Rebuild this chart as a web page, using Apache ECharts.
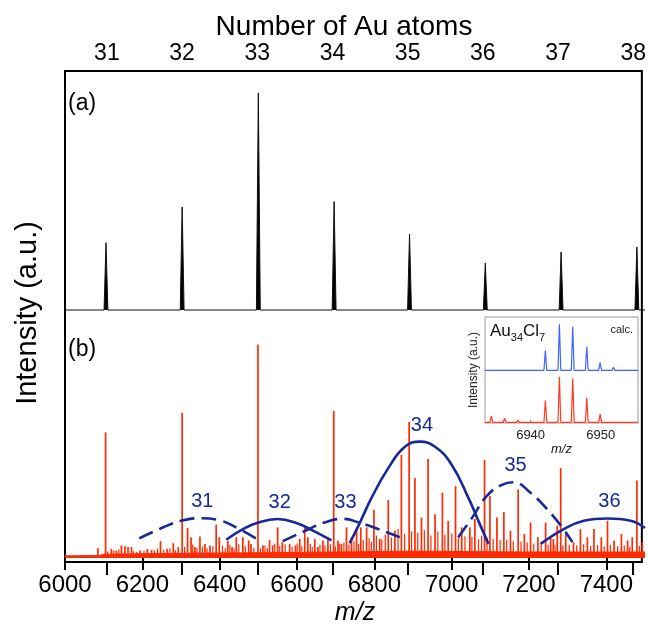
<!DOCTYPE html>
<html>
<head>
<meta charset="utf-8">
<script src="https://cdn.jsdelivr.net/npm/echarts@6/dist/echarts.min.js"></script>
<style>html,body{margin:0;padding:0;background:#fff}#c{width:649px;height:627px}</style>
</head>
<body>
<div id="c"></div>
<script>
// ---------- data ----------
const auAtoms = [31, 32, 33, 34, 35, 36, 37, 38];
const auRange = [30.4425, 38.115];          // Au count at m/z 6000 and 7500
const mzRange = [6000, 7500];
const aPeakMz  = [6106, 6303, 6500, 6696, 6891, 7087, 7283, 7479];
const aPeakInt = [31.6, 47.9, 100, 50.4, 35.6, 22.4, 27.4, 29.7];
const aBase = 0.9;
const bSticks = [
  [6085,4.6],[6105,58.7],[6120,4.3],[6133,3.5],[6146,5.9],[6155,5.5],[6163,5.1],[6172,5.1],[6194,3.5],[6213,4.3],
  [6224,3.8],[6247,7.9],[6264,4.3],[6280,6.9],[6293,5.1],[6303,67.9],[6317,14],[6326,9.7],[6336,5.1],[6349,10],
  [6362,6.6],[6375,5.9],[6391,15.6],[6399,9.7],[6421,7.9],[6432,5.1],[6443,9.7],[6460,9.7],[6475,8.2],[6481,6.6],
  [6499,99.8],[6512,5.9],[6529,8.5],[6537,5.9],[6550,14.3],[6562,7.4],[6581,6.6],[6596,5.9],[6607,8.9],[6620,14.3],
  [6628,9.7],[6646,8.9],[6654,5.1],[6667,8.2],[6680,9.7],[6695,68.8],[6706,8.2],[6715,6.6],[6728,14.3],[6741,9.7],
  [6754,13.5],[6765,14.3],[6780,14.3],[6799,22.5],[6814,8.9],[6836,27.1],[6853,12.8],[6870,48.2],[6890,63.6],[6905,37.4],
  [6922,18.9],[6939,46.3],[6957,20.5],[6976,30.5],[6991,17.4],[7010,33.6],[7026,14.3],[7047,14.3],[7060,18.2],[7085,45.9],
  [7099,29],[7117,18.9],[7135,21.5],[7152,12.8],[7172,32],[7188,11.2],[7204,16.6],[7223,9.7],[7243,16.6],[7256,9.7],
  [7263,8.9],[7273,15.1],[7282,42],[7295,11.2],[7315,7.4],[7333,13.5],[7351,9.7],[7368,13.5],[7387,9.7],[7403,17.4],
  [7420,8.2],[7439,11.2],[7455,8.2],[7467,9.7],[7479,36.2],[7493,7.4]
];
// smaller lines of the dense forest between the labelled ones (estimated)
const bMinor = [
  [6111,3],[6127,3.5],[6140,4],[6178,3.2],[6186,2.8],[6205,3.4],[6232,3.6],[6240,4.4],[6256,3.8],[6272,4.5],[6286,3.6],
  [6310,5.2],[6331,6.2],[6342,4.8],[6356,5.4],[6368,4.6],[6383,5.5],[6408,5.8],[6415,4.6],[6427,6.2],[6438,4.4],[6450,6.4],
  [6467,5.5],[6489,4.8],[6506,4.5],[6518,5.8],[6524,4.6],[6543,6.8],[6556,5.6],[6570,6.4],[6588,5.2],[6601,6.8],[6613,5.5],
  [6635,6.6],[6640,5.2],[6660,6.2],[6673,5.8],[6687,6.4],[6700,5.4],[6710,6.8],[6722,7.2],[6735,6.2],[6748,7.8],[6760,6.5],
  [6772,8.4],[6787,9.2],[6793,7.5],[6806,10.5],[6820,8.6],[6829,11],[6845,9.6],[6862,13.5],[6879,11.2],[6897,12.5],[6913,11.8],
  [6930,13],[6947,10.5],[6965,12.4],[6983,10.8],[7001,11.5],[7018,9.6],[7035,10.2],[7053,9.8],[7070,8.8],[7078,10.4],[7092,9.5],
  [7108,9],[7126,8.4],[7143,8.6],[7160,7.8],[7180,7.6],[7196,7.2],[7213,6.8],[7232,6.4],[7250,6.2],[7268,6],[7288,5.8],
  [7305,6.2],[7324,5.8],[7342,6.4],[7360,5.6],[7378,6],[7395,5.4],[7411,6.2],[7430,5.5],[7447,5.8],[7461,5.2],[7486,5.6]
];
const bBaseline = [[6000,1.0],[6090,1.2],[6100,1.8],[6300,2.2],[6600,2.6],[6900,3.2],[7200,2.8],[7500,2.8]];
const env31 = [[6192,9.2],[6250,14],[6300,17.4],[6350,18.6],[6400,17.6],[6450,13.6],[6498,8.7]];
const env32 = [[6417,8.5],[6460,13.5],[6500,16.6],[6550,18.2],[6600,16.2],[6640,12.9],[6689,8.2]];
const env33 = [[6563,7.9],[6620,12.6],[6671,16.6],[6720,18.3],[6760,16.6],[6810,13.5],[6866,9.7]];
const env34 = [[6736,6.9],[6760,15.5],[6793,28.2],[6836,42],[6879,52],[6918,54.4],[6957,52],[7000,43.6],[7043,28.2],[7070,17],[7095,6.6]];
const env35 = [[7017,9.7],[7050,18],[7091,29],[7130,34.2],[7160,35.4],[7204,30.5],[7247,22.8],[7286,14.3],[7312,7.4]];
const env36 = [[7230,6.6],[7290,13.5],[7342,17.4],[7403,18.5],[7463,17.4],[7500,14]];
const envLabels = ['31', '32', '33', '34', '35', '36'];
const insetRange = [6933.5, 6955.3];
const insetTicks = [6940, 6950];
const calcMz  = [6942.1, 6944.1, 6946.0, 6948.0, 6949.9, 6951.8];
const calcInt = [43, 100, 95, 51, 17, 6.5];
const expMz  = [6934.4, 6936.3, 6938.2, 6942.1, 6944.1, 6946.0, 6948.0, 6949.9, 6951.8, 6953.7];
const expInt = [14, 9, 5, 48, 100, 96, 54, 18, 3, 2];

// ---------- build ----------
const FONT = 'Liberation Sans, Arial, Helvetica, sans-serif';
const RED = '#ff2a00', NAVY = '#17299a';
const plain = v => String(v);
function peaks(mz, it, base, hw, range) {
  const out = [[range[0], base]];
  mz.forEach((c, i) => { out.push([c - hw, base], [c, it[i]], [c + hw, base]); });
  out.push([range[1], base]);
  return out;
}
const aProfile = peaks(aPeakMz, aPeakInt, aBase, 5, mzRange);
const calcProfile = peaks(calcMz, calcInt, 0, 0.2, insetRange);
const expProfile = peaks(expMz, expInt, 0, 0.2, insetRange);

const envs = [env31, env32, env33, env34, env35, env36];
const envSeries = envs.map((d, i) => ({
  type: 'line', name: envLabels[i], xAxisIndex: 2, yAxisIndex: 2, data: d,
  smooth: 0.45, symbol: 'none', z: 5,
  lineStyle: { color: NAVY, width: 2.6, type: (i % 2 === 0) ? [15, 7] : 'solid' },
  markPoint: {
    symbol: 'circle', symbolSize: 1, itemStyle: { color: 'rgba(0,0,0,0)' },
    data: [{ type: 'max' }],
    label: { show: true, position: 'top', distance: 6, offset: [2, 0], formatter: envLabels[i],
      color: NAVY, fontSize: 20, fontFamily: FONT }
  }
}));

const hidden = (gi, min, max) => ({ gridIndex: gi, type: 'value', min, max, show: false });

const option = {
  animation: false,
  backgroundColor: '#fff',
  grid: [
    { left: 65, right: 4, top: 71, bottom: 65, show: true, borderColor: '#000', borderWidth: 2, backgroundColor: 'transparent' },
    { left: 65, right: 4, top: 71, height: 241 },
    { left: 65, right: 4, top: 312, bottom: 65 },
    { left: 485, width: 153, top: 317, height: 106, show: true, borderColor: '#9a9a9a', borderWidth: 1 },
    { left: 485, width: 153, top: 317, height: 55 },
    { left: 485, width: 153, top: 372, height: 51 }
  ],
  xAxis: [
    { gridIndex: 0, type: 'value', position: 'top', min: auRange[0], max: auRange[1],
      axisLine: { show: false }, splitLine: { show: false },
      axisTick: { show: true, inside: true, length: 13, customValues: auAtoms, lineStyle: { color: '#000', width: 2 } },
      axisLabel: { show: true, customValues: auAtoms, margin: 6, fontSize: 23, color: '#000', fontFamily: FONT, formatter: plain } },
    hidden(1, mzRange[0], mzRange[1]),
    { gridIndex: 2, type: 'value', position: 'bottom', min: mzRange[0], max: mzRange[1], interval: 200,
      axisLine: { show: false }, splitLine: { show: false },
      axisTick: { show: true, inside: false, length: 12, lineStyle: { color: '#000', width: 2 } },
      axisLabel: { show: true, margin: 15, fontSize: 24, color: '#000', fontFamily: FONT, showMaxLabel: false, formatter: plain },
      name: 'm/z', nameLocation: 'middle', nameGap: 43,
      nameTextStyle: { fontSize: 25, fontStyle: 'italic', color: '#000', fontFamily: FONT } },
    { gridIndex: 3, type: 'value', min: insetRange[0], max: insetRange[1],
      axisLine: { show: false }, splitLine: { show: false },
      axisTick: { show: true, inside: true, length: 3, customValues: insetTicks, lineStyle: { color: '#888' } },
      axisLabel: { show: true, customValues: insetTicks, margin: 6, fontSize: 13, color: '#222', fontFamily: FONT, formatter: plain },
      name: 'm/z', nameLocation: 'middle', nameGap: 20,
      nameTextStyle: { fontSize: 13, fontStyle: 'italic', color: '#222', fontFamily: FONT } },
    hidden(4, insetRange[0], insetRange[1]),
    hidden(5, insetRange[0], insetRange[1])
  ],
  yAxis: [
    hidden(0, 0, 1),
    hidden(1, 0, 110),
    hidden(2, 0, 115),
    { gridIndex: 3, type: 'value', min: 0, max: 1, axisLine: { show: false }, axisTick: { show: false },
      axisLabel: { show: false }, splitLine: { show: false },
      name: 'Intensity (a.u.)', nameLocation: 'middle', nameGap: 5,
      nameTextStyle: { fontSize: 12, color: '#222', fontFamily: FONT } },
    hidden(4, -3.7, 116),
    hidden(5, -1.5, 110.3)
  ],
  graphic: [
    { type: 'text', x: 344, y: 27, style: { text: 'Number of Au atoms', font: '28px ' + FONT, fill: '#000', textAlign: 'center', textVerticalAlign: 'middle' } },
    { type: 'text', x: 28, y: 313, rotation: Math.PI / 2, style: { text: 'Intensity (a.u.)', font: '29px ' + FONT, fill: '#000', textAlign: 'center', textVerticalAlign: 'middle' } },
    { type: 'text', x: 68, y: 104, style: { text: '(a)', font: '23px ' + FONT, fill: '#000', textAlign: 'left', textVerticalAlign: 'middle' } },
    { type: 'text', x: 68, y: 350, style: { text: '(b)', font: '23px ' + FONT, fill: '#000', textAlign: 'left', textVerticalAlign: 'middle' } },
    { type: 'text', x: 490, y: 331, style: { text: '{m|Au}{s|34}{m|Cl}{s|7}', textVerticalAlign: 'middle', fill: '#111',
        rich: { m: { fontSize: 17, fontFamily: FONT, lineHeight: 20 }, s: { fontSize: 11, fontFamily: FONT, verticalAlign: 'bottom', lineHeight: 24 } } } },
    { type: 'text', x: 633, y: 330, style: { text: 'calc.', font: '11px ' + FONT, fill: '#222', textAlign: 'right', textVerticalAlign: 'middle' } }
  ],
  series: [
    { type: 'line', name: 'Au clusters', xAxisIndex: 1, yAxisIndex: 1, data: aProfile, symbol: 'none',
      lineStyle: { color: '#111', width: 1 }, areaStyle: { color: '#000', opacity: 1, origin: aBase } },
    { type: 'line', name: 'baseline', xAxisIndex: 2, yAxisIndex: 2, data: bBaseline, symbol: 'none',
      lineStyle: { color: RED, width: 1 }, areaStyle: { color: RED, opacity: 1 } },
    { type: 'bar', name: 'minor', xAxisIndex: 2, yAxisIndex: 2, data: bMinor, barWidth: 1.2, barGap: '-100%',
      itemStyle: { color: RED } },
    { type: 'bar', name: 'spectrum', xAxisIndex: 2, yAxisIndex: 2, data: bSticks, barWidth: 1.7, barGap: '-100%',
      itemStyle: { color: RED } },
    ...envSeries,
    { type: 'line', name: 'calc', xAxisIndex: 4, yAxisIndex: 4, data: calcProfile, symbol: 'none',
      lineStyle: { color: '#3f63ff', width: 1.2 } },
    { type: 'line', name: 'exp', xAxisIndex: 5, yAxisIndex: 5, data: expProfile, symbol: 'none',
      lineStyle: { color: '#ff3a22', width: 1.2 } }
  ]
};
const chart = echarts.init(document.getElementById('c'), null, { renderer: 'canvas' });
chart.setOption(option);
</script>
</body>
</html>
